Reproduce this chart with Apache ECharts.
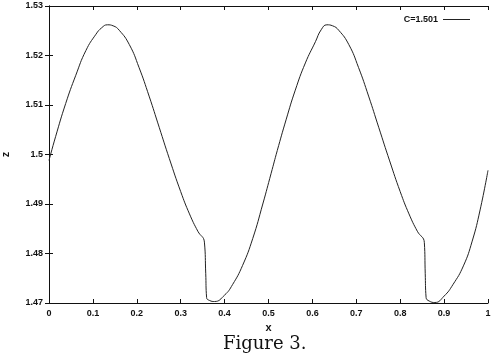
<!DOCTYPE html>
<html>
<head>
<meta charset="utf-8">
<script src="https://cdn.jsdelivr.net/npm/echarts@6/dist/echarts.min.js"></script>
<style>
  html, body { margin: 0; padding: 0; background: #fff; }
  #chart { width: 494px; height: 355px; }
</style>
</head>
<body>
<div id="chart"></div>
<script>
// x positions
const xValues = [
  0.000, 0.015, 0.038, 0.061, 0.084, 0.107, 0.120, 0.133, 0.146, 0.160,
  0.183, 0.205, 0.228, 0.251, 0.274, 0.300, 0.320, 0.339, 0.354, 0.357,
  0.359, 0.366, 0.377, 0.400, 0.418, 0.441, 0.464, 0.487, 0.506, 0.520,
  0.540, 0.561, 0.584, 0.607, 0.620, 0.633, 0.646, 0.660, 0.683, 0.705,
  0.728, 0.751, 0.776, 0.800, 0.820, 0.839, 0.855, 0.857, 0.859, 0.866,
  0.879, 0.900, 0.920, 0.944, 0.964, 0.982, 1.000
]
// z values (C=1.501)
const zValues = [
  1.4988, 1.5036, 1.5103, 1.5160, 1.5210, 1.5243, 1.5256, 1.5262, 1.5260, 1.5251,
  1.5222, 1.5176, 1.5118, 1.5055, 1.4992, 1.4925, 1.4880, 1.4845, 1.4823, 1.4760,
  1.4711, 1.4705, 1.4703, 1.4716, 1.4737, 1.4776, 1.4830, 1.4900, 1.4962, 1.5008,
  1.5070, 1.5130, 1.5185, 1.5228, 1.5252, 1.5262, 1.5260, 1.5251, 1.5222, 1.5176,
  1.5118, 1.5055, 1.4987, 1.4925, 1.4880, 1.4845, 1.4822, 1.4760, 1.4711, 1.4704,
  1.4701, 1.4714, 1.4737, 1.4775, 1.4825, 1.4888, 1.4968
]
const xTicks = [0, 0.1, 0.2, 0.3, 0.4, 0.5, 0.6, 0.7, 0.8, 0.9, 1]
const zTicks = [1.47, 1.48, 1.49, 1.5, 1.51, 1.52, 1.53]
const seriesName = 'C=1.501'

const chart = echarts.init(document.getElementById('chart'))

// scanned gnuplot labels look heavy
const labelFont = { fontFamily: 'Liberation Sans', fontSize: 9, fontWeight: 'bold', color: '#111' }

chart.setOption({
  animation: false,
  title: {
    text: 'Figure 3.',
    left: 223,
    top: 335,
    padding: 0,
    textStyle: { fontFamily: 'DejaVu Serif', fontSize: 18, fontWeight: 'normal', color: '#111' }
  },
  legend: {
    right: 19,
    top: 10,
    align: 'right',
    icon: 'rect',
    itemWidth: 27,
    itemHeight: 1,
    itemGap: 7,
    textStyle: labelFont,
    data: [seriesName]
  },
  grid: { left: 49, right: 6, top: 6, bottom: 52, containLabel: false, outerBoundsMode: 'none' },
  xAxis: [
    {
      type: 'value',
      min: 0,
      max: 1,
      interval: 0.1,
      name: 'x',
      nameLocation: 'middle',
      nameGap: 17,
      nameTextStyle: Object.assign({}, labelFont, { fontSize: 11 }),
      axisLine: { lineStyle: { color: '#111', width: 1 } },
      axisTick: { inside: true, length: 4, lineStyle: { color: '#111' } },
      axisLabel: Object.assign({ margin: 6, formatter: v => xTicks.includes(+v.toFixed(2)) ? String(+v.toFixed(2)) : '' }, labelFont),
      splitLine: { show: false }
    },
    {
      type: 'value',
      position: 'top',
      min: 0,
      max: 1,
      interval: 0.1,
      axisLine: { lineStyle: { color: '#111', width: 1 } },
      axisTick: { inside: true, length: 4, lineStyle: { color: '#111' } },
      axisLabel: { show: false },
      splitLine: { show: false }
    }
  ],
  yAxis: [
    {
      type: 'value',
      min: 1.47,
      max: 1.53,
      interval: 0.01,
      name: 'z',
      nameLocation: 'middle',
      nameRotate: 90,
      nameGap: 38,
      nameTextStyle: Object.assign({}, labelFont, { fontSize: 11 }),
      axisLine: { show: true, lineStyle: { color: '#111', width: 1 } },
      axisTick: { show: true, inside: true, length: 4, lineStyle: { color: '#111' } },
      axisLabel: Object.assign({ margin: 6, formatter: v => zTicks.includes(+v.toFixed(2)) ? String(+v.toFixed(2)) : '' }, labelFont),
      splitLine: { show: false }
    },
    {
      type: 'value',
      position: 'right',
      min: 1.47,
      max: 1.53,
      interval: 0.01,
      axisLine: { show: true, lineStyle: { color: '#111', width: 1 } },
      axisTick: { show: true, inside: true, length: 4, lineStyle: { color: '#111' } },
      axisLabel: { show: false },
      splitLine: { show: false }
    }
  ],
  series: [
    {
      name: seriesName,
      type: 'line',
      symbol: 'none',
      smooth: 0.5,
      lineStyle: { color: '#222', width: 1 },
      itemStyle: { color: '#222' },
      data: xValues.map((x, i) => [x, zValues[i]])
    }
  ]
})
</script>
</body>
</html>
